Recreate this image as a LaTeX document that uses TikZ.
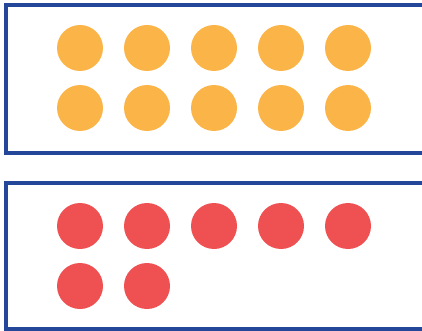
\documentclass[tikz,border=0pt]{standalone}
\usepackage{xcolor}
\usepackage{tikz}
\usetikzlibrary{positioning}

\definecolor{frameblue}{HTML}{24479A}
\definecolor{dotorange}{HTML}{FBB447}
\definecolor{dotred}{HTML}{EF5152}

\begin{document}
\begin{tikzpicture}[
    x=1pt, y=-1pt,
    frame/.style={draw=frameblue, line width=3.6pt},
    dot/.style={circle, minimum size=46pt, inner sep=0pt, draw=none},
]
\useasboundingbox (0,0) rectangle (422,331);
\clip (0,0) rectangle (422,331);

% Frames
\draw[frame] (6,5) rectangle (440,153);
\draw[frame] (6,183) rectangle (440,329);

% Top frame: ten dots
\foreach \i/\x in {1/80, 2/147, 3/214, 4/281, 5/348} {
  \node[dot, fill=dotorange] (top-a\i) at (\x, 48) {};
  \node[dot, fill=dotorange] (top-b\i) at (\x, 108) {};
}

% Bottom frame: seven dots
\foreach \i/\x in {1/80, 2/147, 3/214, 4/281, 5/348} {
  \node[dot, fill=dotred] (bot-a\i) at (\x, 226) {};
}
\foreach \i/\x in {1/80, 2/147} {
  \node[dot, fill=dotred] (bot-b\i) at (\x, 286) {};
}

\end{tikzpicture}
\end{document}
